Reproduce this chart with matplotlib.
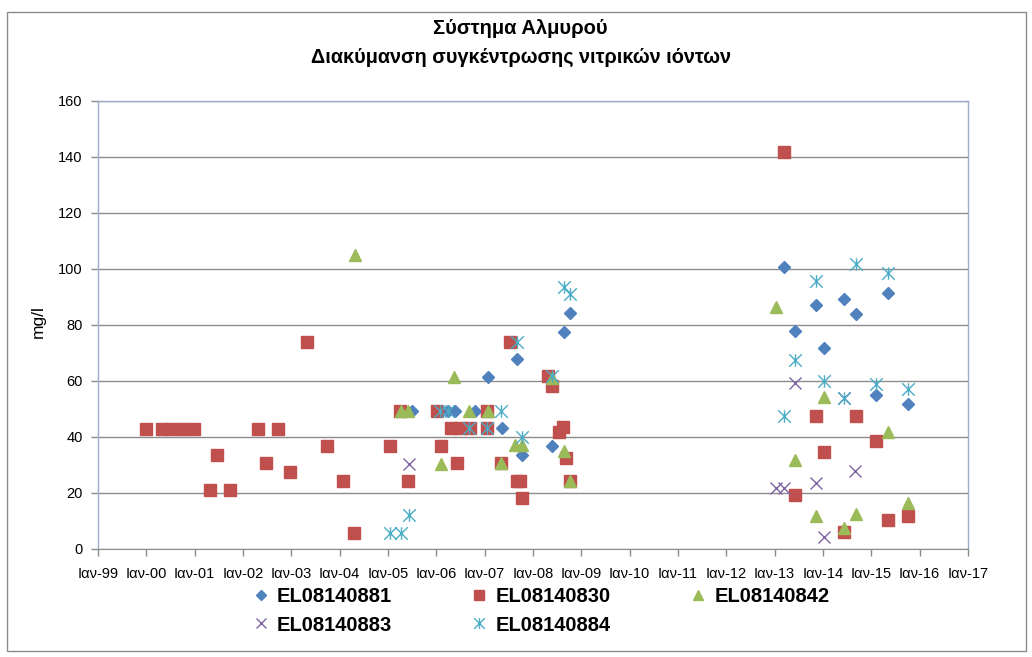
import matplotlib
matplotlib.use("Agg")
import matplotlib.pyplot as plt
from matplotlib.path import Path
from matplotlib.patches import Rectangle
import pandas as pd

plt.rcParams['font.family'] = ['Liberation Sans', 'DejaVu Sans']

# ---- data: nitrate concentration (mg/l) per sampling date and well ----
dates_881 = ['2005-07-01', '2006-04-01', '2006-05-22', '2006-10-22', '2007-01-30',
             '2007-05-10', '2007-09-06', '2007-10-08', '2008-05-23', '2008-08-26',
             '2008-10-08', '2013-03-10', '2013-06-07', '2013-11-10', '2014-01-08',
             '2014-06-10', '2014-09-06', '2015-02-06', '2015-05-08', '2015-10-08']
vals_881 = [49.4, 49.4, 49.4, 49.4, 61.5, 43.1, 67.8, 33.6, 36.9, 77.5,
            84.2, 100.8, 77.9, 87.3, 71.9, 89.4, 83.8, 55, 91.3, 51.8]

dates_830 = ['1999-12-30', '2000-04-27', '2000-07-16', '2000-10-08', '2000-12-28',
             '2001-04-27', '2001-06-21', '2001-09-24', '2002-04-24', '2002-06-25',
             '2002-09-24', '2002-12-20', '2003-05-01', '2003-09-27', '2004-01-30',
             '2004-04-20', '2005-01-15', '2005-04-05', '2005-06-03', '2006-01-05',
             '2006-02-06', '2006-04-23', '2006-06-06', '2006-07-02', '2006-09-13',
             '2007-01-19', '2007-01-19', '2007-05-05', '2007-07-13', '2007-09-06',
             '2007-09-27', '2007-10-08', '2008-04-27', '2008-05-23', '2008-07-13',
             '2008-08-18', '2008-09-09', '2008-10-08', '2013-03-10', '2013-06-07',
             '2013-11-10', '2014-01-08', '2014-06-07', '2014-09-06', '2015-02-06',
             '2015-05-08', '2015-10-05']
vals_830 = [43, 43, 43, 43, 43, 21.2, 33.7, 21.2, 43, 30.6,
            43, 27.5, 74, 36.8, 24.4, 5.8, 36.8, 49.4, 24.4, 49.4,
            36.8, 43.1, 30.6, 43.1, 43.1, 49.4, 43.1, 30.6, 74, 24.3,
            24.3, 18.3, 61.8, 58.3, 41.9, 43.7, 32.4, 24.4, 141.9, 19.3,
            47.6, 34.5, 5.9, 47.6, 38.6, 10.4, 11.9]

dates_842 = ['2004-04-24', '2005-04-09', '2005-05-30', '2006-02-06', '2006-05-12',
             '2006-09-02', '2007-01-23', '2007-05-05', '2007-08-22', '2007-10-08',
             '2008-05-23', '2008-08-26', '2008-10-08', '2013-01-11', '2013-06-07',
             '2013-11-10', '2014-01-08', '2014-06-07', '2014-09-06', '2015-05-08',
             '2015-10-05']
vals_842 = [105, 49.4, 49.4, 30.4, 61.5, 49.4, 49.4, 30.6, 37.1, 37.1,
            61, 35.1, 24.4, 86.5, 31.8, 11.8, 54.4, 7.4, 12.5, 41.9, 16.3]

dates_883 = ['2005-06-07', '2013-01-11', '2013-03-10', '2013-06-07', '2013-11-10',
             '2014-01-08', '2014-06-10', '2014-09-02']
vals_883 = [30.4, 21.7, 21.7, 59.2, 23.5, 4.4, 54, 27.9]

dates_884 = ['2005-01-19', '2005-04-09', '2005-06-07', '2006-01-30', '2006-04-01',
             '2006-09-02', '2007-01-19', '2007-05-05', '2007-09-02', '2007-10-08',
             '2008-05-23', '2008-08-22', '2008-10-05', '2013-03-10', '2013-06-07',
             '2013-11-10', '2014-01-08', '2014-06-10', '2014-09-06', '2015-02-06',
             '2015-05-08', '2015-10-05']
vals_884 = [5.6, 5.6, 12, 49.4, 49.4, 43.1, 43.1, 49.4, 74, 40.1,
            61.8, 93.7, 91, 47.6, 67.5, 95.8, 60, 54, 101.8, 58.9, 98.7, 57]

series_names = ['EL08140881', 'EL08140830', 'EL08140842', 'EL08140883', 'EL08140884']

tick_dates = ['1999-01-01', '2000-01-01', '2001-01-01', '2002-01-01', '2003-01-01',
              '2004-01-01', '2005-01-01', '2006-01-01', '2007-01-01', '2008-01-01',
              '2009-01-01', '2010-01-01', '2011-01-01', '2012-01-01', '2013-01-01',
              '2014-01-01', '2015-01-01', '2016-01-01', '2017-01-01']
tick_labels = ['Ιαν-99', 'Ιαν-00', 'Ιαν-01', 'Ιαν-02', 'Ιαν-03', 'Ιαν-04', 'Ιαν-05',
               'Ιαν-06', 'Ιαν-07', 'Ιαν-08', 'Ιαν-09', 'Ιαν-10', 'Ιαν-11', 'Ιαν-12',
               'Ιαν-13', 'Ιαν-14', 'Ιαν-15', 'Ιαν-16', 'Ιαν-17']
y_ticks = [0, 20, 40, 60, 80, 100, 120, 140, 160]

title_main = 'Σύστημα Αλμυρού'
title_sub = 'Διακύμανση συγκέντρωσης νιτρικών ιόντων'
y_label = 'mg/l'

# ---- figure ----
W, H = 1032, 657
fig = plt.figure(figsize=(W / 100, H / 100), dpi=100)
fig.patch.set_facecolor('white')

# outer chart frame
fig.patches.append(Rectangle((7 / W, 1 - 651 / H), (1026 - 7) / W, (651 - 12) / H,
                             transform=fig.transFigure, fill=False,
                             edgecolor='#8c8c8c', linewidth=1.0, zorder=0))

ax = fig.add_axes([98 / W, 1 - 549 / H, (968 - 98) / W, (549 - 101) / H])

star = Path([(-0.5, -0.5), (0.5, 0.5), (-0.5, 0.5), (0.5, -0.5), (0, -0.5), (0, 0.5)],
            [Path.MOVETO, Path.LINETO, Path.MOVETO, Path.LINETO, Path.MOVETO, Path.LINETO])

styles = [
    dict(marker='D', ms=6.5, color='#4F81BD', mec='#4F81BD'),
    dict(marker='s', ms=8.4, color='#C0504D', mec='#C0504D'),
    dict(marker='^', ms=8.8, color='#9BBB59', mec='#9BBB59'),
    dict(marker='x', ms=8.8, color='#8064A2', mew=1.0),
    dict(marker=star, ms=9.0, color='#4BACC6', mfc='none', mew=1.0),
]
all_dates = [dates_881, dates_830, dates_842, dates_883, dates_884]
all_vals = [vals_881, vals_830, vals_842, vals_883, vals_884]

handles = []
for name, d, v, st in zip(series_names, all_dates, all_vals, styles):
    h, = ax.plot(pd.to_datetime(d), v, linestyle='none', label=name, zorder=3, **st)
    handles.append(h)

ax.set_xlim(pd.Timestamp(tick_dates[0]), pd.Timestamp(tick_dates[-1]))
ax.set_ylim(y_ticks[0], y_ticks[-1])
ax.set_xticks(pd.to_datetime(tick_dates))
ax.set_xticklabels(tick_labels)
ax.set_yticks(y_ticks)

ax.grid(axis='y', color='#8c8c8c', linewidth=1.0, zorder=0)
ax.set_axisbelow(True)
for side in ['left', 'right', 'top']:
    ax.spines[side].set_color('#9aadc8')
    ax.spines[side].set_linewidth(1.0)
ax.spines['bottom'].set_color('#8c8c8c')
ax.tick_params(axis='both', direction='out', length=5, width=1, color='#8c8c8c',
               labelsize=10.5, labelcolor='black')
ax.tick_params(axis='x', pad=8)
ax.tick_params(axis='y', pad=6)

fig.text(38 / W, 1 - 322 / H, y_label, rotation=90, ha='center', va='center', fontsize=12.5)

fig.text(520 / W, 1 - 28 / H, title_main, ha='center', va='center',
         fontsize=14.5, fontweight='bold')
fig.text(521 / W, 1 - 57 / H, title_sub, ha='center', va='center',
         fontsize=14.3, fontweight='bold')

# legend: two rows, three columns (order fills columns first)
order = [0, 3, 1, 4, 2]
leg = fig.legend([handles[i] for i in order], [series_names[i] for i in order],
                 ncol=3, loc='center', bbox_to_anchor=(541 / W, 1 - 611 / H),
                 frameon=False, prop=dict(size=14.5, weight='bold'),
                 handlelength=0.8, handletextpad=0.4, columnspacing=3.95,
                 labelspacing=0.45, markerscale=0.85, borderpad=0)

fig.savefig('out.png', dpi=100)
